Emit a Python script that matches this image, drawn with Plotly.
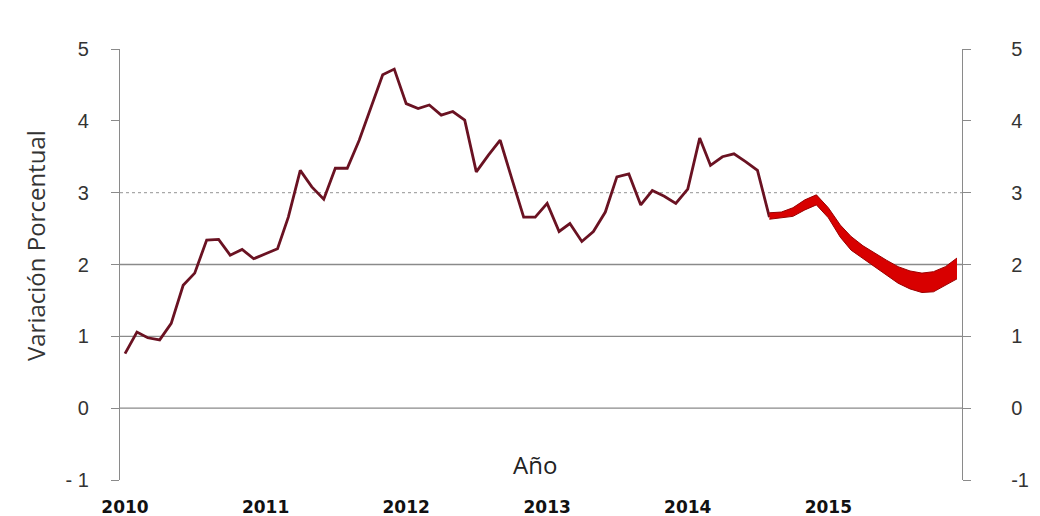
import plotly.graph_objects as go
import pandas as pd

# ---------------- data ----------------
hist_dates = pd.date_range("2010-01-01", "2014-08-01", freq="MS").strftime("%Y-%m-%d").tolist()
hist_values = [
    0.76, 1.06, 0.98, 0.95, 1.18, 1.71, 1.88, 2.34, 2.35, 2.13, 2.21, 2.08,   # 2010
    2.15, 2.22, 2.66, 3.31, 3.08, 2.91, 3.34, 3.34, 3.73, 4.17, 4.64, 4.72,   # 2011
    4.24, 4.17, 4.22, 4.08, 4.13, 4.01, 3.29, 3.52, 3.73, 3.20, 2.66, 2.66,   # 2012
    2.85, 2.46, 2.57, 2.32, 2.46, 2.73, 3.22, 3.26, 2.83, 3.03, 2.95, 2.85,   # 2013
    3.05, 3.76, 3.38, 3.50, 3.54, 3.43, 3.31, 2.66,                           # 2014
]

fc_dates = pd.date_range("2014-08-01", "2015-12-01", freq="MS").strftime("%Y-%m-%d").tolist()
fc_upper = [2.72, 2.73, 2.79, 2.90, 2.97, 2.79, 2.55, 2.39, 2.26, 2.16, 2.06, 1.97, 1.91, 1.88, 1.90, 1.97, 2.09]
fc_lower = [2.63, 2.65, 2.67, 2.76, 2.83, 2.65, 2.38, 2.20, 2.08, 1.97, 1.85, 1.74, 1.66, 1.61, 1.62, 1.71, 1.80]

year_ticks = ["2010-01-01", "2011-01-01", "2012-01-01", "2013-01-01", "2014-01-01", "2015-01-01"]
year_labels = ["2010", "2011", "2012", "2013", "2014", "2015"]
y_ticks = [-1, 0, 1, 2, 3, 4, 5]
y_labels_left = ["- 1", "0", "1", "2", "3", "4", "5"]
y_labels_right = ["-1", "0", "1", "2", "3", "4", "5"]
solid_ref = [0, 1, 2]
dashed_ref = [3]

# ---------------- figure ----------------
fig = go.Figure()

fig.add_trace(go.Scatter(
    x=hist_dates, y=hist_values, mode="lines",
    line=dict(color="#6a1222", width=2.8), showlegend=False, hoverinfo="skip"))

fig.add_trace(go.Scatter(
    x=fc_dates, y=fc_lower, mode="lines",
    line=dict(color="#9a0000", width=1), showlegend=False, hoverinfo="skip", yaxis="y2"))
fig.add_trace(go.Scatter(
    x=fc_dates, y=fc_upper, mode="lines", fill="tonexty", fillcolor="#d80000",
    line=dict(color="#9a0000", width=1), showlegend=False, hoverinfo="skip", yaxis="y2"))

shapes = []
for v in solid_ref:
    shapes.append(dict(type="line", xref="paper", x0=0, x1=1, yref="y", y0=v, y1=v,
                       line=dict(color="#8a8a8a", width=1.4), layer="below"))
for v in dashed_ref:
    shapes.append(dict(type="line", xref="paper", x0=0, x1=1, yref="y", y0=v, y1=v,
                       line=dict(color="#a8a8a8", width=1.2, dash="3px,3px"), layer="below"))

axis_font = dict(family="Liberation Sans Narrow, Arial Narrow, Liberation Sans", size=20, color="#333333")

fig.update_layout(
    width=1032, height=508,
    margin=dict(l=112, r=78, t=41, b=36),
    paper_bgcolor="white", plot_bgcolor="white",
    shapes=shapes,
    xaxis=dict(
        type="date", range=["2009-12-19", "2015-12-14"],
        tickvals=year_ticks, ticktext=year_labels, automargin=False,
        tickfont=dict(family="DejaVu Sans", size=17, color="#111111", weight="bold"),
        showgrid=False, zeroline=False, showline=False, ticks="", ticklabelstandoff=15),
    yaxis=dict(
        range=[-1, 5], tickvals=y_ticks, ticktext=y_labels_left, tickfont=axis_font, automargin=False,
        showgrid=False, zeroline=False, showline=True, linecolor="#8a8a8a", linewidth=1.4,
        ticks="outside", ticklen=8, tickcolor="#8a8a8a", tickwidth=1.4, ticklabelstandoff=18),
    yaxis2=dict(
        range=[-1, 5], tickvals=y_ticks, ticktext=y_labels_right, tickfont=axis_font, automargin=False,
        overlaying="y", side="right",
        showgrid=False, zeroline=False, showline=True, linecolor="#8a8a8a", linewidth=1.4,
        ticks="outside", ticklen=8, tickcolor="#8a8a8a", tickwidth=1.4, ticklabelstandoff=36),
    annotations=[
        dict(text="Variación Porcentual", xref="paper", yref="paper", x=-0.101, y=0.545,
             textangle=-90, showarrow=False, font=dict(family="Open Sans", size=24, color="#333333"),
             xanchor="center", yanchor="middle"),
        dict(text="Año", xref="paper", yref="paper", x=0.493, y=0.037, showarrow=False,
             font=dict(family="Open Sans", size=24, color="#222222"),
             xanchor="center", yanchor="middle"),
    ],
)

fig.write_html("out.html")
